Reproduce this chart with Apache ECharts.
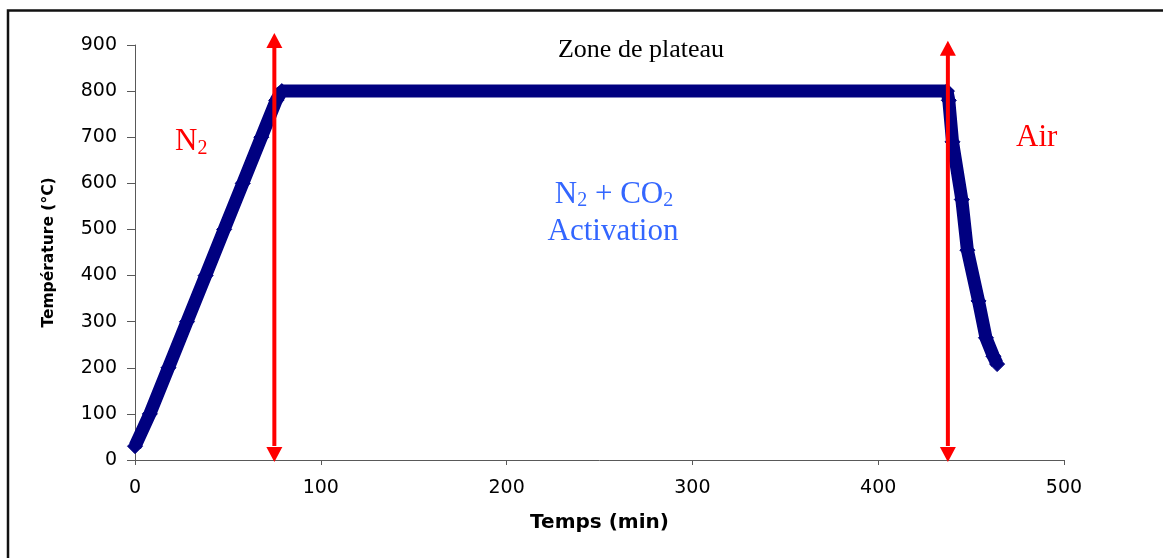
<!DOCTYPE html>
<html>
<head>
<meta charset="utf-8">
<script src="https://cdn.jsdelivr.net/npm/echarts@6/dist/echarts.min.js"></script>
<style>
  html, body { margin: 0; padding: 0; background: #fff; }
  #chart { width: 1163px; height: 558px; }
</style>
</head>
<body>
<div id="chart"></div>
<script>
// temperature program
var timeMin = [0, 8, 18, 28, 38, 48, 58, 68, 76, 79, 437, 438, 440, 445, 448, 454, 458, 462, 464];
var tempC = [30, 100, 200, 300, 400, 500, 600, 700, 780, 800, 800, 780, 690, 565, 455, 345, 265, 225, 208];

// gas switch arrows (x in min, tip values in °C)
var arrowX = [75, 437.5];
var arrowTop = [926, 909];
var arrowBottom = [0, 0];

var lineData = [];
timeMin.forEach(function(t, i) {
    lineData.push([t, tempC[i]]);
});
var arrowData = [];
arrowX.forEach(function(x, i) {
    arrowData.push([x, arrowTop[i], arrowBottom[i]]);
});

var myChart = echarts.init(document.getElementById('chart'), null, { renderer: 'canvas' });

var serif = '"Liberation Serif", "Times New Roman", serif';
var subStyle = function(color) {
    return {
        b: { fontFamily: serif, fontSize: 31, lineHeight: 36, fill: color },
        s: { fontFamily: serif, fontSize: 20, lineHeight: 20, fill: color, padding: [13, 0, 0, 0] }
    };
};

var option = {
    animation: false,
    backgroundColor: '#fff',
    grid: {
        left: 135,
        right: 99,
        top: 45,
        bottom: 98
    },
    xAxis: {
        type: 'value',
        min: 0,
        max: 500,
        interval: 100,
        name: 'Temps (min)',
        nameLocation: 'middle',
        nameGap: 53,
        nameTextStyle: {
            fontFamily: 'DejaVu Sans',
            fontWeight: 'bold',
            fontSize: 20,
            color: '#000'
        },
        axisLine: { lineStyle: { color: '#595959', width: 1 } },
        axisTick: { show: true, length: 5, lineStyle: { color: '#595959' } },
        axisLabel: {
            margin: 19,
            fontFamily: 'DejaVu Sans',
            fontSize: 19,
            color: '#000'
        },
        splitLine: { show: false }
    },
    yAxis: {
        type: 'value',
        min: 0,
        max: 900,
        interval: 100,
        name: 'Température (°C)',
        nameLocation: 'middle',
        nameGap: 78,
        nameTextStyle: {
            fontFamily: 'DejaVu Sans',
            fontWeight: 'bold',
            fontSize: 15.5,
            color: '#000'
        },
        axisLine: { show: true, lineStyle: { color: '#595959', width: 1 } },
        axisTick: { show: true, length: 8, lineStyle: { color: '#595959' } },
        axisLabel: {
            margin: 18,
            fontFamily: 'DejaVu Sans',
            fontSize: 19,
            color: '#000'
        },
        splitLine: { show: false }
    },
    graphic: [{
        type: 'rect',
        z: -1,
        shape: { x: 8, y: 10.5, width: 1300, height: 700 },
        style: { fill: 'none', stroke: '#111', lineWidth: 2.5 }
    }, {
        type: 'text',
        x: 641,
        y: 50,
        style: {
            text: 'Zone de plateau',
            font: '26px ' + serif,
            fill: '#000',
            align: 'center',
            verticalAlign: 'middle'
        }
    }, {
        type: 'text',
        x: 175,
        y: 142,
        style: {
            text: '{b|N}{s|2}',
            rich: subStyle('#FF0000'),
            align: 'left',
            verticalAlign: 'middle'
        }
    }, {
        type: 'text',
        x: 1016,
        y: 137.5,
        style: {
            text: 'Air',
            font: '31px ' + serif,
            fill: '#FF0000',
            align: 'left',
            verticalAlign: 'middle'
        }
    }, {
        type: 'text',
        x: 614,
        y: 194.5,
        style: {
            text: '{b|N}{s|2}{b| + CO}{s|2}',
            rich: subStyle('#3366FF'),
            align: 'center',
            verticalAlign: 'middle'
        }
    }, {
        type: 'text',
        x: 613,
        y: 232,
        style: {
            text: 'Activation',
            font: '31px ' + serif,
            fill: '#3366FF',
            align: 'center',
            verticalAlign: 'middle'
        }
    }],
    series: [{
        name: 'Température',
        type: 'line',
        data: lineData,
        showAllSymbol: true,
        symbol: 'diamond',
        symbolSize: 15,
        lineStyle: {
            color: '#000080',
            width: 13
        },
        itemStyle: {
            color: '#000080',
            borderColor: '#000080'
        },
        z: 2
    }, {
        name: 'Gaz',
        type: 'custom',
        data: arrowData,
        z: 3,
        renderItem: function(params, api) {
            var x = api.value(0);
            var pTop = api.coord([x, api.value(1)]);
            var pBot = api.coord([x, api.value(2)]);
            var h = 15, w = 8;
            return {
                type: 'group',
                children: [{
                    type: 'line',
                    shape: { x1: pBot[0], y1: pBot[1] - h + 1, x2: pTop[0], y2: pTop[1] + h - 1 },
                    style: { stroke: '#FF0000', lineWidth: 4 }
                }, {
                    type: 'polygon',
                    shape: { points: [[pTop[0], pTop[1]], [pTop[0] - w, pTop[1] + h], [pTop[0] + w, pTop[1] + h]] },
                    style: { fill: '#FF0000' }
                }, {
                    type: 'polygon',
                    shape: { points: [[pBot[0], pBot[1] + 2], [pBot[0] - w, pBot[1] + 2 - h], [pBot[0] + w, pBot[1] + 2 - h]] },
                    style: { fill: '#FF0000' }
                }]
            };
        }
    }]
};
myChart.setOption(option);
</script>
</body>
</html>
